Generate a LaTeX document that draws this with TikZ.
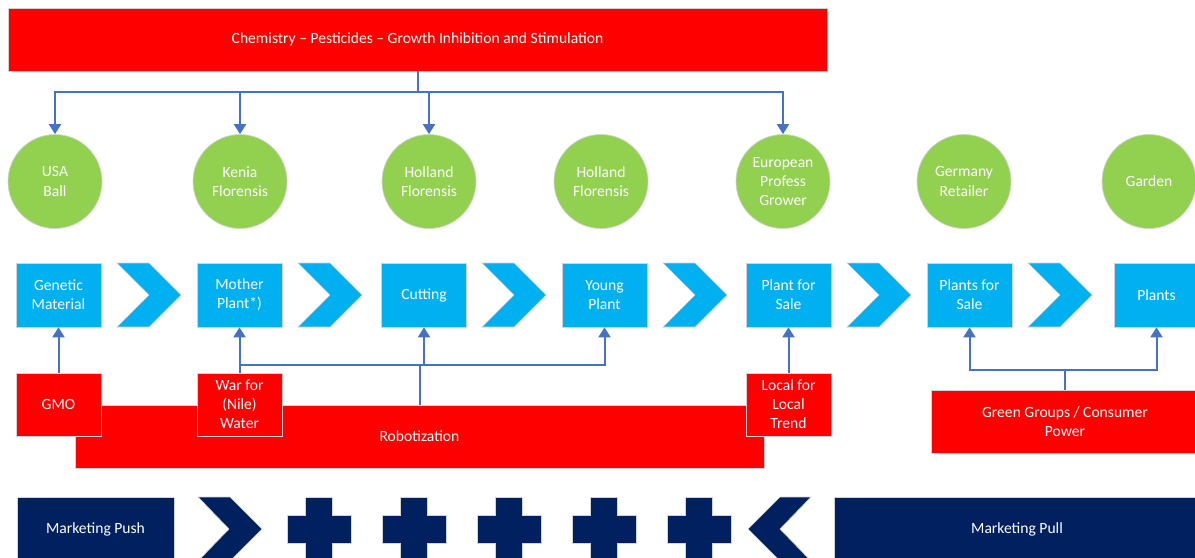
\documentclass[tikz,border=0pt]{standalone}
\usepackage{fontspec}
\setmainfont{Carlito}
\usetikzlibrary{arrows.meta}
\definecolor{cred}{HTML}{FF0000}
\definecolor{cblue}{HTML}{00B0F0}
\definecolor{cgreen}{HTML}{92D050}
\definecolor{cnavy}{HTML}{002060}
\definecolor{cline}{HTML}{4472C4}
\newcommand\mychev[1]{\path[chev] (#1,263) -- ++(32,0) -- ++(32,32) -- ++(-32,32) -- ++(-32,0) -- ++(32,-32) -- cycle;}
\newcommand\mycross[1]{\path[navyshape] (#1-13.5,497) -- (#1+13.5,497) -- (#1+13.5,515) -- (#1+32,515) -- (#1+32,543) -- (#1+13.5,543) -- (#1+13.5,561) -- (#1-13.5,561) -- (#1-13.5,543) -- (#1-32,543) -- (#1-32,515) -- (#1-13.5,515) -- cycle;}
\begin{document}
\begin{tikzpicture}[x=0.75pt,y=-0.75pt,
 base/.style={draw=gray!35, line width=0.5pt, text=white, align=center, inner sep=0pt, font=\fontsize{11.7}{14.3}\selectfont},
 redbox/.style={base, rectangle, fill=cred, minimum width=63.75pt, minimum height=47.25pt},
 bluebox/.style={base, rectangle, fill=cblue, minimum width=63.75pt, minimum height=48pt},
 circ/.style={base, circle, fill=cgreen, minimum size=70.5pt},
 navybox/.style={base, rectangle, fill=cnavy, minimum height=48pt},
 conn/.style={draw=cline, line width=1.5pt},
 arr/.style={conn, -{Triangle[width=9pt,length=7.5pt]}},
 chev/.style={fill=cblue, draw=gray!35, line width=0.5pt},
 navyshape/.style={fill=cnavy, draw=gray!35, line width=0.5pt}]
\useasboundingbox (0,0) rectangle (1195,557);
\clip (0,0) rectangle (1195,557);

% top bar
\node[redbox, minimum width=614.25pt] (top) at (417.5,39.5) {Chemistry -- Pesticides -- Growth Inhibition and Stimulation};

% circles
\node[circ] (usa) at (55,181.5) {USA\\Ball};
\node[circ] (kenia) at (240,181.5) {Kenia\\Florensis};
\node[circ] (holA) at (429,181.5) {Holland\\Florensis};
\node[circ] (holB) at (601,181.5) {Holland\\Florensis};
\node[circ] (euro) at (783,181.5) {European\\Profess\\Grower};
\node[circ] (ger) at (964,181.5) {Germany\\Retailer};
\node[circ] (garden) at (1149,181.5) {Garden};

% blue boxes
\node[bluebox] (gen) at (58.5,295) {Genetic\\Material};
\node[bluebox] (mother) at (239.5,295) {Mother\\Plant*)};
\node[bluebox] (cut) at (424,295) {Cutting};
\node[bluebox] (young) at (604.5,295) {Young\\Plant};
\node[bluebox] (psale) at (788.5,295) {Plant for\\Sale};
\node[bluebox] (psales) at (969.5,295) {Plants for\\Sale};
\node[bluebox] (plants) at (1156.5,295) {Plants};

% chevrons
\mychev{117}
\mychev{298}
\mychev{482}
\mychev{663}
\mychev{847}
\mychev{1028}

% red boxes
\node[redbox, minimum width=516.75pt] (robot) at (419.5,436.5) {Robotization};
\node[redbox] (gmo) at (58.5,404.5) {GMO};
\node[redbox] (war) at (239.5,404.5) {War for\\(Nile)\\Water};
\node[redbox] (local) at (788.5,404.5) {Local for\\Local\\Trend};
\node[redbox, minimum width=201pt] (green) at (1065,421.5) {Green Groups / Consumer\\Power};

% connectors from top
\draw[arr] (top.south) -- ++(0,21) -| (usa.north);
\draw[arr] (top.south) -- ++(0,21) -| (kenia.north);
\draw[arr] (top.south) -- ++(0,21) -| (holA.north);
\draw[arr] (top.south) -- ++(0,21) -| (euro.north);

% connectors from below
\draw[arr] (gmo.north) -- (gen.south);
\draw[arr] (war.north) -- (mother.south);
\coordinate (j) at (419.5,365);
\draw[conn] (robot.north) -- (j);
\draw[conn] (j) -- (j -| war.north);
\draw[arr] (j) -| (cut.south);
\draw[arr] (j) -| (young.south);
\draw[arr] (local.north) -- (psale.south);
\draw[arr] (green.north) -- ++(0,-20) -| (psales.south);
\draw[arr] (green.north) -- ++(0,-20) -| (plants.south);

% bottom row
\node[navybox, minimum width=117.75pt] (push) at (95.5,529) {Marketing Push};
\node[navybox, minimum width=274.5pt] (pull) at (1017,529) {Marketing Pull};
\path[navyshape] (198,497) -- (230,497) -- (262,529) -- (230,561) -- (198,561) -- (229,529) -- cycle;
\mycross{319}
\mycross{414}
\mycross{509}
\mycross{604}
\mycross{699}
\path[navyshape] (811,497) -- (780,497) -- (748,529) -- (780,561) -- (811,561) -- (780,529) -- cycle;
\end{tikzpicture}
\end{document}
